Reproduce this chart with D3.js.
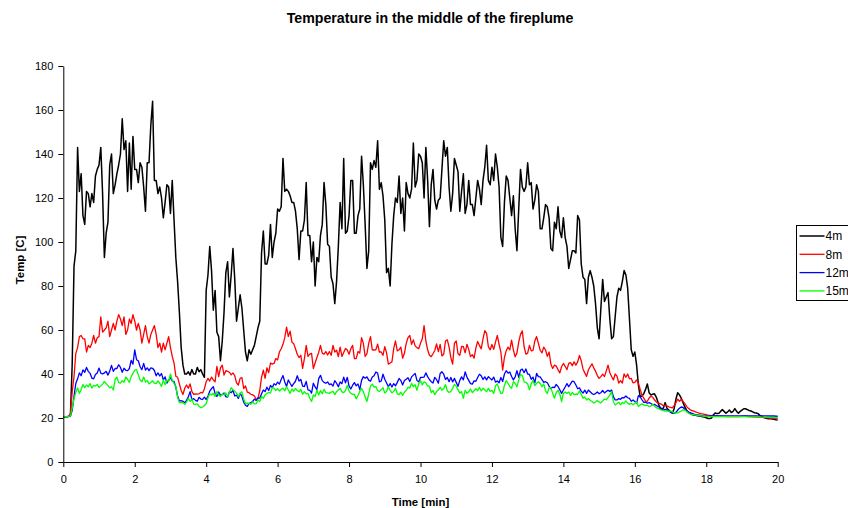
<!DOCTYPE html>
<html>
<head>
<meta charset="utf-8">
<script src="https://cdn.jsdelivr.net/npm/d3@7/dist/d3.min.js"></script>
<style>
  html, body { margin: 0; padding: 0; background: #fff; overflow: hidden; }
  svg { display: block; font-family: "Liberation Sans", Arial, sans-serif; }
</style>
</head>
<body>
<svg id="chart" width="848" height="508"></svg>
<script>
// Logger interval: one reading every 3 s (0.05 min)
const sampleInterval = 0.05;

const xTicks = [0, 2, 4, 6, 8, 10, 12, 14, 16, 18, 20];
const yTicks = [0, 20, 40, 60, 80, 100, 120, 140, 160, 180];

const seriesNames = ["4m", "8m", "12m", "15m"];
const seriesColors = ["#000000", "#ff0000", "#0000ff", "#00ff00"];

// Temperatures [C] at 4 m height
const temp4m = [
  20.6, 20.6, 20.6, 20.7, 21, 45, 89, 96, 143, 123,
  131, 112, 108, 123, 122, 116, 122, 118, 130, 133,
  135, 143, 122, 93, 104, 109, 135, 140, 122, 126,
  131, 135, 140, 156, 142, 146, 123, 145, 124, 148,
  133, 133, 127, 136, 134, 125, 114, 136, 136, 153,
  164, 128, 128, 122, 125, 120, 111, 118, 126, 125,
  113, 128, 110, 93, 82, 68, 52, 44, 40, 40,
  41, 39.5, 42, 40, 40, 43, 41, 42, 40, 38.5,
  78, 85, 98, 87, 69, 78, 59, 57, 46, 55,
  68, 86, 91, 75, 85, 97, 83, 64, 70, 76,
  70, 60, 50, 46, 51, 49, 51, 53, 57, 61,
  64, 95, 105, 90, 90, 94, 108, 93, 100, 104,
  115, 114, 116, 138, 123, 124, 123, 121, 118, 118,
  114, 106, 92, 105, 105, 110, 127, 103, 103, 91,
  100, 80, 93, 91, 103, 108, 127, 117, 99, 98,
  84, 81, 72, 82, 98, 118, 106, 138, 104, 105,
  112, 128, 128, 104, 104, 112, 115, 139, 126, 108,
  88, 96, 136, 133, 137, 134, 146, 124, 127, 121,
  110, 86, 88, 80, 99, 112, 120, 118, 130, 113,
  120, 105, 127, 122, 120, 124, 145, 125, 128, 140,
  139, 136, 120, 143, 128, 107, 126, 133, 119, 115,
  119, 120, 133, 146, 139, 143, 125, 114, 122, 138,
  135, 132, 114, 123, 131, 113, 117, 128, 117, 117,
  112, 120, 128, 124, 117, 128, 134, 144, 128, 126,
  134, 128, 140, 134, 125, 102, 98, 118, 130, 128,
  120, 112, 121, 106, 96, 115, 133, 125, 123, 125,
  136, 126, 127, 115, 119, 126, 123, 106, 106, 111,
  117, 116, 111, 97, 96, 109, 106, 116, 105, 102,
  111, 102, 98, 88, 92, 96, 96, 95, 112, 110,
  90, 84, 83, 72, 84, 87, 84, 80, 72, 61,
  56, 70, 83, 73, 75, 77, 65, 56, 57, 66,
  75, 79, 78, 82, 87, 85, 79, 65, 51, 48,
  50, 44, 35, 29.7, 30, 31, 33, 35.5, 31.5, 30.5,
  30.8, 31, 29.5, 27, 24.5, 24, 24.5, 27, 24.4, 23.6,
  22.8, 22.2, 24.2, 28.5, 31.5, 30.5, 29, 27, 25, 23.6,
  22.5, 22, 21.6, 21.4, 21.2, 21, 20.9, 20.8, 20.6, 20.4,
  20.1, 19.8, 19.8, 20, 21.5, 22.3, 22, 22.1, 23, 23.8,
  23, 22.2, 22.8, 23.6, 22.5, 23, 24.3, 23, 22.2, 23,
  23.6, 24.2, 24.2, 23.8, 23.4, 23.2, 22.8, 22.4, 22.3, 22,
  21.2, 20.8, 20.4, 20, 19.8, 19.7, 19.6, 19.5, 19.4, 19.2, 19.1
];

// Temperatures [C] at 8 m height
const temp8m = [
  20.6, 20.6, 20.7, 20.9, 22, 32, 38.8, 49.4, 52, 57,
  57.5, 56, 56, 50, 53, 52, 54, 57.5, 54, 56.5,
  57, 66, 59, 60, 61, 64, 57, 60, 63, 60,
  64, 67, 65, 62, 66, 58, 60, 65, 63, 67,
  64, 60, 63, 60, 54, 58, 62, 57, 54, 58,
  60, 62, 58, 52, 54, 50, 54, 51, 54, 57,
  52, 48, 45, 39, 38.5, 35.5, 32.5, 30.7, 33.5, 35,
  33.5, 35.5, 32, 30.7, 31, 30.8, 31, 31.6, 31.4, 33.2,
  36.5, 38, 36.8, 38.6, 37.3, 36.5, 43.5, 38.8, 42.8, 44,
  39.5, 41.5, 41.2, 40.8, 39.6, 40.5, 39.2, 36, 35, 38,
  38.4, 33.4, 34.6, 31.8, 31.5, 30.8, 30.5, 30, 28.4, 28.8,
  32.5, 38.5, 41.8, 38, 42.8, 40.6, 45, 44.5, 44.8, 47,
  46.4, 50, 51.5, 53.5, 56.5, 61.3, 57, 59.5, 54.5, 53.8,
  51.5, 49, 47.5, 48.5, 42.5, 47, 53, 48, 49, 49.4,
  42.5, 45, 47.5, 49.8, 53, 49.5, 49, 50.2, 48.6, 50.2,
  48.5, 53, 50, 50.8, 47.9, 52.2, 48, 49.8, 51.6, 50.9,
  49, 51.5, 53, 47, 47, 50.2, 49.5, 56.5, 53.9, 48,
  49.2, 53.9, 57, 51, 50.9, 51, 53.6, 50, 50, 48.5,
  52.4, 49.6, 44.5, 45, 45.5, 51.5, 55, 50.5, 51, 52.2,
  47.2, 49.4, 53.9, 56.5, 57.5, 53.5, 55.5, 52.8, 52, 51.5,
  54, 56, 62, 55, 51, 48.5, 47.9, 49.2, 50.7, 53.7,
  50.2, 53.5, 48.2, 49, 55, 55.5, 52.3, 47.4, 44.5, 53.9,
  55, 49.2, 48.5, 52.5, 52.4, 49.6, 53.5, 51.2, 47.9, 48.8,
  47.2, 51.8, 54.8, 53, 51.4, 56, 59.7, 58.5, 52.4, 51,
  53.4, 51.2, 54.5, 57.5, 53.5, 50, 41.8, 47.5, 50.6, 52.2,
  51, 55.4, 51, 47.8, 49.6, 54.5, 58, 59.6, 52.5, 49,
  49.5, 53, 50.5, 50.7, 55, 57, 53.9, 50.8, 49.6, 52.2,
  50.9, 48, 50, 44.5, 42.5, 44, 43.6, 42, 40.5, 43.3,
  44.8, 43.5, 42, 44.8, 45.2, 43.8, 45.5, 44, 45.5, 48.4,
  46, 42.2, 40.5, 38.9, 41.8, 43.3, 44.6, 42.8, 41.3, 39.3,
  38, 38.8, 39.9, 38.8, 41.3, 44, 40.6, 38.9, 37.3, 40,
  39, 35.9, 37, 35.9, 40, 38.5, 40, 37.8, 38, 36,
  36.2, 37.3, 35.8, 33, 30.5, 29, 27.7, 27.6, 29, 30,
  29.4, 28.3, 27.3, 26.8, 26.6, 26.2, 25.5, 25.8, 25.5, 25.1,
  24.8, 24.6, 25.6, 27, 28.6, 27.6, 28.5, 27.6, 26.5, 25.3,
  24.4, 23.7, 23.4, 23.1, 22.8, 22.5, 22.2, 22, 21.9, 21.7,
  21.5, 21.3, 21.2, 21.1, 21, 20.9, 20.9, 20.8, 20.8, 20.7,
  20.7, 20.6, 20.6, 20.6, 20.6, 20.6, 20.6, 20.6, 20.6, 20.6,
  20.7, 20.8, 20.8, 20.7, 20.6, 20.6, 20.5, 20.5, 20.4, 20.4,
  20.3, 20.3, 20.2, 20.2, 20.1, 20.1, 20, 20, 19.9, 19.9, 19.8
];

// Temperatures [C] at 12 m height
const temp12m = [
  20.6, 20.6, 20.6, 20.7, 21, 23.5, 29.9, 35.7, 37.8, 40.5,
  39.2, 41.9, 40.8, 43, 41.2, 40.3, 38.1, 37.8, 39.8, 40.5,
  42.7, 40.4, 40, 40.5, 41.2, 39.5, 41.3, 43.9, 41.2, 42.5,
  42.5, 44.2, 43, 40.8, 42.6, 41.7, 41.5, 42.5, 46.2, 44.5,
  51, 46.5, 46, 43.3, 42, 44.8, 41.8, 42.8, 41.5, 42.8,
  42.6, 41.6, 39.2, 40.5, 39.1, 40.2, 37.3, 38.7, 35.9, 37.1,
  38.3, 36.8, 36.6, 34, 30, 27.7, 27.9, 27.6, 26.9, 28,
  29.7, 32, 28.3, 28.8, 28, 27.6, 29.4, 28.6, 28.5, 29.5,
  28.4, 30, 32.2, 33.4, 34.2, 31.1, 29.8, 31.8, 30.3, 30.6,
  31.4, 29.7, 29.5, 31.9, 31.5, 32.5, 30, 30.4, 28.9, 31.1,
  29.9, 27.2, 25.8, 25.3, 26.6, 27, 27.5, 28.6, 28, 29.2,
  29, 31, 32.7, 32, 34, 32.5, 34.8, 33.8, 35.6, 35,
  36.3, 35.4, 37.5, 39.3, 36.4, 34.3, 37.3, 35.8, 34.4, 35.6,
  36.7, 39.2, 36.8, 37.5, 34.5, 34.3, 36.6, 32.8, 32.6, 31.3,
  35.8, 34.1, 32.9, 37.9, 39.4, 37, 36.2, 35.8, 36.4, 35.2,
  35.5, 34.5, 37, 35.8, 34.2, 36.4, 35.6, 38.6, 36, 38.5,
  34.5, 33.2, 34.9, 36.1, 34.6, 35.5, 32.9, 37.1, 38.8, 38.1,
  38.7, 37.2, 36.7, 38.6, 39.2, 40.9, 40.4, 36.4, 36.8, 39.9,
  37.6, 35.9, 34.2, 35.7, 34.1, 35.6, 34.6, 36.2, 38, 37,
  35, 37, 37.6, 38.3, 36.6, 38.7, 39.5, 40.3, 37.1, 36.4,
  38.4, 38.5, 38.6, 40.5, 38.8, 37.5, 36.5, 35.9, 38.5, 37.4,
  35.8, 40.2, 41, 39.9, 37.5, 38.4, 36.5, 38.4, 36.4, 38,
  36.2, 34.4, 37.1, 38.7, 37.3, 41, 38.6, 37.1, 35.6, 35.4,
  36.9, 36.7, 38.4, 39.9, 39.2, 37.5, 38.7, 37.3, 38.8, 38,
  37.3, 38.6, 36.3, 36.8, 36, 38.4, 36.6, 40, 41.5, 40.4,
  40.9, 38.9, 37.3, 38.7, 41.5, 38.5, 41.8, 42.2, 40.6, 42.3,
  40, 39.8, 37.6, 38.6, 36, 40.3, 38.8, 38.7, 37.4, 36.2,
  36.5, 36, 34.5, 33.4, 34, 33.8, 35.3, 34.3, 32.8, 31.2,
  32.7, 34.1, 35.6, 34.2, 35.5, 36.8, 36.5, 35, 33.3, 33.7,
  32.2, 31.3, 32.7, 31.2, 32.7, 31.9, 31.1, 30.7, 31.1, 31.8,
  31, 31.5, 32.5, 31.4, 32, 32.6, 32.1, 32.7, 29.7, 28.2,
  28.2, 28.8, 28.5, 29.3, 29.2, 30, 29.2, 28.9, 27.6, 28.2,
  27.5, 26.8, 30.2, 29.6, 28.3, 27.1, 27.2, 26.7, 27, 26.6,
  26, 26.2, 25.7, 25.2, 25.1, 24.2, 23.6, 23.9, 23.7, 23.2,
  22.6, 22.3, 22.1, 22.5, 23.6, 24.4, 25, 24.8, 24, 23.3,
  22.8, 22.4, 22.1, 21.8, 21.5, 21.4, 21.3, 21.2, 21.1, 21,
  21, 20.9, 20.9, 20.9, 20.9, 20.9, 20.9, 20.9, 20.9, 20.9,
  20.9, 20.9, 20.9, 20.9, 20.9, 20.9, 20.9, 20.9, 20.9, 20.9,
  21, 21, 21, 21, 21, 21, 21, 21, 21, 21,
  21, 21, 21, 21, 20.9, 20.9, 20.9, 20.9, 20.9, 20.8, 20.8
];

// Temperatures [C] at 15 m height
const temp15m = [
  20.6, 20.6, 20.6, 20.7, 21, 24.5, 28.8, 31.6, 33.7, 31.2,
  33, 35.2, 33.8, 35, 34.2, 35.6, 33.6, 34.9, 34.5, 35.3,
  33.9, 34.6, 35.4, 36.6, 35.6, 34.7, 33.7, 34.2, 32.7, 37.4,
  38.6, 36.1, 35.9, 37, 36.2, 38.6, 37.5, 36.2, 38.8, 40.3,
  41.8, 42, 39.6, 37.3, 36.5, 38.6, 36.3, 37.1, 35.5, 36.1,
  36.9, 35.8, 35.6, 36.9, 35.8, 34.4, 37.3, 35.1, 37.2, 36.6,
  40, 37.2, 35.8, 34.5, 29.5, 27, 27, 26.9, 26.2, 27.2,
  28.9, 27.5, 28.7, 26.3, 26.2, 26.4, 25.3, 24.7, 25, 25.7,
  26.5, 29.2, 31, 30.5, 31.2, 29.8, 32, 30.4, 29.8, 30.8,
  30.7, 31.4, 29.7, 31.5, 33.8, 32.8, 32.2, 31.3, 29.7, 31.2,
  31.9, 28.7, 26.6, 26.7, 26.6, 26.2, 27.3, 26.4, 26.5, 28.2,
  27.5, 29.8, 28.9, 30.5, 31.2, 31.6, 31.3, 33.8, 33.6, 32.5,
  33.3, 32.3, 33.1, 33.6, 32.3, 34.2, 32.7, 31.2, 33.2, 32.1,
  33.4, 32.5, 31.9, 33.1, 30.8, 32, 31, 31.2, 29, 27.5,
  30.5, 29.7, 32.6, 30.4, 32.5, 31, 33, 31.5, 31.4, 31.2,
  31.8, 32.1, 30.6, 32, 32.7, 33.4, 31.9, 31.5, 32.5, 34.8,
  32.2, 31.2, 30.8, 30.7, 28.7, 30.2, 32.1, 33.5, 32, 29.5,
  27.5, 31, 34.5, 35.4, 34, 34.3, 32.4, 32.1, 32.8, 33.8,
  31.4, 32, 34.2, 32.6, 31.4, 32.1, 33.5, 31, 30.6, 31.7,
  30.3, 31.7, 32.5, 34, 33.6, 35.8, 34.2, 35.1, 32.6, 35.5,
  37, 35, 36.5, 36, 34.5, 34.5, 31.5, 32.5, 30.6, 32,
  32.7, 34, 32.7, 33.3, 35.2, 32.4, 31.6, 32.1, 33.5, 35.3,
  34.5, 32.9, 31.3, 32, 28.9, 32.6, 31.2, 31.9, 33.2, 31.5,
  32.4, 33.3, 32.4, 33.9, 32.3, 33.5, 32.8, 32, 33.5, 32.1,
  32.6, 31.1, 34.6, 35.5, 33.2, 31.1, 31.4, 34.8, 37, 35.8,
  34.3, 33.5, 36.5, 35.7, 34.2, 37.2, 39.8, 39.3, 36.4, 36.2,
  35.5, 32.8, 35.5, 37.1, 34.7, 35.8, 36.5, 35.7, 34.2, 35.5,
  32.4, 31.1, 33.8, 33.8, 31.2, 29, 31.5, 32.6, 30.8, 27.5,
  31.2, 31.8, 31.2, 31.8, 30.3, 31.6, 30.6, 30.9, 30.8, 32.3,
  30.8, 29, 29.5, 28.2, 28.9, 28.1, 27.5, 26.8, 27.3, 28,
  27.3, 26.9, 27.8, 28.6, 28.3, 29.4, 30.4, 32, 27.4, 25.9,
  26.5, 27.2, 26, 27.1, 26.6, 27.8, 26.8, 26.2, 26.7, 26,
  26.6, 27.3, 25.2, 25.9, 26.4, 26, 25.6, 25.8, 25.2, 25.4,
  26.3, 25.4, 24.7, 24.4, 23.9, 23.6, 23.5, 23.1, 23.2, 23.1,
  23.2, 22.8, 22.3, 22.2, 22.3, 22.8, 23.2, 23.7, 23.6, 22.9,
  22.3, 21.8, 21.6, 21.5, 21.3, 21.2, 21.1, 21, 20.9, 20.8,
  20.7, 20.7, 20.6, 20.6, 20.6, 20.6, 20.6, 20.6, 20.6, 20.6,
  20.6, 20.6, 20.6, 20.6, 20.6, 20.6, 20.6, 20.6, 20.6, 20.6,
  20.6, 20.6, 20.6, 20.5, 20.5, 20.5, 20.5, 20.5, 20.5, 20.5,
  20.4, 20.4, 20.4, 20.4, 20.4, 20.4, 20.3, 20.3, 20.3, 20.3, 20.3
];

const seriesValues = [temp4m, temp8m, temp12m, temp15m];

const svg = d3.select("#chart");
const plot = { left: 63.3, right: 777.7, top: 66, bottom: 462 };

const x = d3.scaleLinear().domain([0, 20]).range([plot.left, plot.right]);
const y = d3.scaleLinear().domain([0, 180]).range([plot.bottom, plot.top]);

// Title
svg.append("text")
  .attr("x", 430).attr("y", 23)
  .attr("text-anchor", "middle")
  .style("font-size", "14.2px").style("font-weight", "bold")
  .text("Temperature in the middle of the fireplume");

// Series lines (later series drawn on top)
const line = d3.line()
  .x((d, i) => x(i * sampleInterval))
  .y(d => y(d));

seriesValues.forEach((vals, k) => {
  svg.append("path")
    .datum(vals)
    .attr("fill", "none")
    .attr("stroke", seriesColors[k])
    .attr("stroke-width", k === 0 ? 1.5 : 1.3)
    .attr("stroke-linejoin", "round")
    .attr("d", line);
});

// Axes
const yAxis = d3.axisLeft(y).tickValues(yTicks).tickSize(5).tickSizeOuter(0).tickPadding(5);
const xAxis = d3.axisBottom(x).tickValues(xTicks).tickSize(5).tickSizeOuter(0).tickPadding(8);

const gy = svg.append("g").attr("transform", `translate(${plot.left},0)`).call(yAxis);
const gx = svg.append("g").attr("transform", `translate(0,${plot.bottom})`).call(xAxis);

[gx, gy].forEach(g => {
  g.selectAll("path, line").attr("stroke", "#000");
  g.selectAll("text")
    .attr("fill", "#000")
    .style("font-size", "11px")
    .style("font-family", '"Liberation Sans", Arial, sans-serif');
});

// Axis titles
svg.append("text")
  .attr("x", (plot.left + plot.right) / 2).attr("y", 506)
  .attr("text-anchor", "middle")
  .style("font-size", "11.4px").style("font-weight", "bold")
  .text("Time [min]");

svg.append("text")
  .attr("transform", `translate(24,${(plot.top + plot.bottom) / 2 - 4}) rotate(-90)`)
  .attr("text-anchor", "middle")
  .style("font-size", "11.4px").style("font-weight", "bold")
  .text("Temp [C]");

// Legend
const legend = svg.append("g").attr("transform", "translate(796.5,225.5)");
legend.append("rect")
  .attr("width", 70).attr("height", 75)
  .attr("fill", "#fff").attr("stroke", "#000").attr("stroke-width", 1);

seriesNames.forEach((name, k) => {
  const ly = 10.5 + k * 18.3;
  legend.append("line")
    .attr("x1", 3).attr("x2", 28).attr("y1", ly).attr("y2", ly)
    .attr("stroke", seriesColors[k]).attr("stroke-width", k === 0 ? 1.5 : 1.3);
  legend.append("text")
    .attr("x", 29).attr("y", ly + 4.3)
    .style("font-size", "12px")
    .text(name);
});
</script>
</body>
</html>
